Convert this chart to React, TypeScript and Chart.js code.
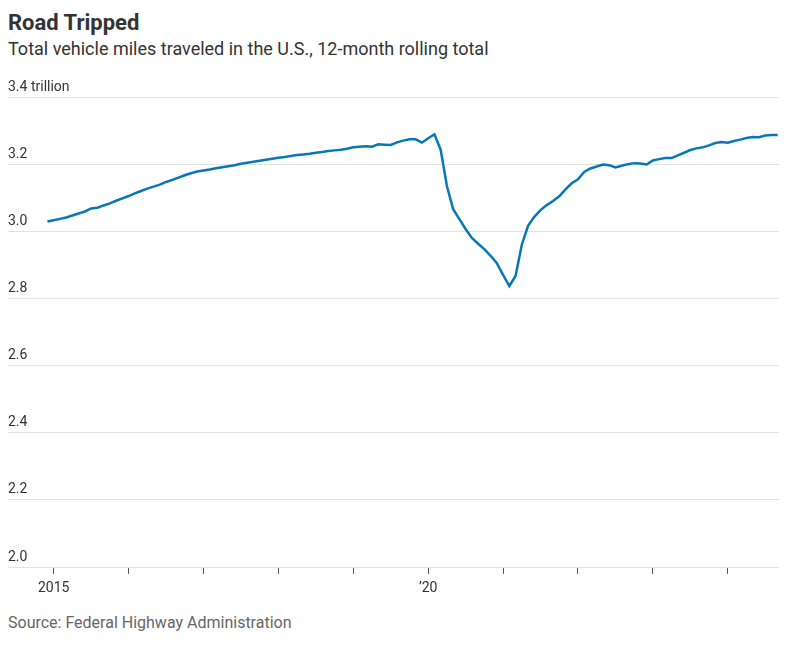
import React, { useEffect, useRef } from "react";
import { Chart, registerables } from "chart.js";

Chart.register(...registerables);

// Months (YYYY-MM) of each observation
const MONTHS: string[] = [
  "2014-12",
  "2015-01","2015-02","2015-03","2015-04","2015-05","2015-06","2015-07","2015-08","2015-09","2015-10","2015-11","2015-12",
  "2016-01","2016-02","2016-03","2016-04","2016-05","2016-06","2016-07","2016-08","2016-09","2016-10","2016-11","2016-12",
  "2017-01","2017-02","2017-03","2017-04","2017-05","2017-06","2017-07","2017-08","2017-09","2017-10","2017-11","2017-12",
  "2018-01","2018-02","2018-03","2018-04","2018-05","2018-06","2018-07","2018-08","2018-09","2018-10","2018-11","2018-12",
  "2019-01","2019-02","2019-03","2019-04","2019-05","2019-06","2019-07","2019-08","2019-09","2019-10","2019-11","2019-12",
  "2020-01","2020-02","2020-03","2020-04","2020-05","2020-06","2020-07","2020-08","2020-09","2020-10","2020-11","2020-12",
  "2021-01","2021-02","2021-03","2021-04","2021-05","2021-06","2021-07","2021-08","2021-09","2021-10","2021-11","2021-12",
  "2022-01","2022-02","2022-03","2022-04","2022-05","2022-06","2022-07","2022-08","2022-09","2022-10","2022-11","2022-12",
  "2023-01","2023-02","2023-03","2023-04","2023-05","2023-06","2023-07","2023-08","2023-09","2023-10","2023-11","2023-12",
  "2024-01","2024-02","2024-03","2024-04","2024-05","2024-06","2024-07","2024-08","2024-09",
];

// Vehicle miles traveled, trillions, 12-month rolling total
const MILES: number[] = [
  3.029,
  3.033, 3.037, 3.041, 3.047, 3.053, 3.059, 3.068, 3.070, 3.077, 3.083, 3.091, 3.098,
  3.105, 3.113, 3.120, 3.127, 3.133, 3.139, 3.147, 3.153, 3.160, 3.167, 3.173, 3.178,
  3.181, 3.184, 3.188, 3.191, 3.194, 3.197, 3.201, 3.204, 3.207, 3.210, 3.213, 3.216,
  3.219, 3.221, 3.224, 3.227, 3.229, 3.231, 3.234, 3.236, 3.239, 3.241, 3.243, 3.246,
  3.250, 3.252, 3.253, 3.252, 3.259, 3.258, 3.257, 3.265, 3.270, 3.274, 3.274, 3.264,
  3.277, 3.289, 3.243, 3.135, 3.066, 3.036, 3.007, 2.980, 2.963, 2.947, 2.927, 2.905,
  2.870, 2.837, 2.867, 2.960, 3.016, 3.043, 3.063, 3.078, 3.090, 3.104, 3.125, 3.143,
  3.155, 3.177, 3.187, 3.193, 3.199, 3.197, 3.190, 3.195, 3.200, 3.203, 3.202, 3.199,
  3.211, 3.215, 3.218, 3.218, 3.226, 3.234, 3.242, 3.247, 3.250, 3.256, 3.263, 3.266,
  3.264, 3.269, 3.273, 3.278, 3.281, 3.280, 3.285, 3.287, 3.287,
];

const YEAR_TICKS: number[] = [2015, 2016, 2017, 2018, 2019, 2020, 2021, 2022, 2023, 2024];
const YEAR_LABELS: Record<number, string> = { 2015: "2015", 2020: "\u201920" };
const Y_TICKS: number[] = [2.0, 2.2, 2.4, 2.6, 2.8, 3.0, 3.2, 3.4];

const TITLE = "Road Tripped";
const SUBTITLE = "Total vehicle miles traveled in the U.S., 12-month rolling total";
const SOURCE = "Source: Federal Highway Administration";

const FONT = "Roboto, 'Noto Sans', sans-serif";

function monthToYear(m: string): number {
  const [y, mo] = m.split("-").map(Number);
  return y + (mo - 1) / 12;
}

const yLabelPlugin = {
  id: "yLabels",
  afterDraw(chart: any) {
    const { ctx, chartArea, scales } = chart;
    const y = scales.y;
    ctx.save();
    ctx.font = `14px ${FONT}`;
    ctx.fillStyle = "#333";
    ctx.textAlign = "left";
    ctx.textBaseline = "bottom";
    Y_TICKS.forEach((v) => {
      const label = v === 3.4 ? "3.4 trillion" : v.toFixed(1);
      ctx.fillText(label, chartArea.left, y.getPixelForValue(v) - 3);
    });
    ctx.restore();
  },
};

export default function App() {
  const canvasRef = useRef<HTMLCanvasElement | null>(null);

  useEffect(() => {
    if (!canvasRef.current) return;
    const data = MONTHS.map((m, i) => ({ x: monthToYear(m), y: MILES[i] }));
    const chart = new Chart(canvasRef.current, {
      type: "line",
      data: {
        datasets: [
          {
            data,
            borderColor: "#0878b5",
            borderWidth: 2.5,
            pointRadius: 0,
            tension: 0,
            fill: false,
          },
        ],
      },
      options: {
        animation: false,
        responsive: false,
        maintainAspectRatio: false,
        layout: { padding: { top: 27, right: 10, left: 0, bottom: 0 } },
        plugins: { legend: { display: false }, tooltip: { enabled: false }, title: { display: false } },
        scales: {
          x: {
            type: "linear",
            min: 2014.39,
            max: 2024.684,
            afterBuildTicks: (axis: any) => {
              axis.ticks = YEAR_TICKS.map((v) => ({ value: v }));
            },
            afterFit: (s: any) => {
              s.height = 43;
            },
            border: { display: false },
            grid: {
              drawOnChartArea: false,
              drawTicks: true,
              tickLength: 7,
              color: "#555",
              lineWidth: 1,
            },
            ticks: {
              autoSkip: false,
              maxRotation: 0,
              padding: 6,
              color: "#333",
              font: { family: FONT, size: 14 },
              callback: (v: any) => YEAR_LABELS[Number(v)] ?? "",
            },
          },
          y: {
            min: 2.0,
            max: 3.4,
            afterBuildTicks: (axis: any) => {
              axis.ticks = Y_TICKS.map((v) => ({ value: v }));
            },
            afterFit: (s: any) => {
              s.width = 0;
            },
            border: { display: false },
            grid: { color: "#e3e3e3", lineWidth: 1, drawTicks: false },
            ticks: { display: false },
          },
        },
      },
      plugins: [yLabelPlugin],
    });
    return () => chart.destroy();
  }, []);

  return (
    <div style={{ position: "relative", width: 781, height: 635, fontFamily: FONT }}>
      <div
        style={{
          position: "absolute",
          left: 0,
          top: 1,
          fontSize: 22,
          fontWeight: 700,
          color: "#333",
          lineHeight: "28px",
        }}
      >
        {TITLE}
      </div>
      <div
        style={{
          position: "absolute",
          left: 0,
          top: 29,
          fontSize: 18,
          color: "#333",
          lineHeight: "24px",
        }}
      >
        {SUBTITLE}
      </div>
      <canvas
        ref={canvasRef}
        width={781}
        height={540}
        style={{ position: "absolute", left: 0, top: 62, width: 781, height: 540 }}
      />
      <div
        style={{
          position: "absolute",
          left: 0,
          top: 604,
          fontSize: 16,
          color: "#666",
          lineHeight: "22px",
        }}
      >
        {SOURCE}
      </div>
    </div>
  );
}
